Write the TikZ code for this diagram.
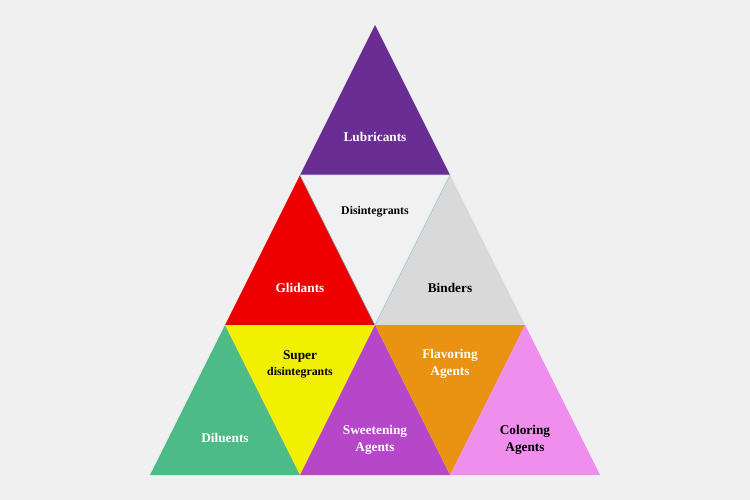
\documentclass[tikz,border=0pt]{standalone}
\usepackage{fontspec}
\setmainfont{Liberation Serif}
\begin{document}
\begin{tikzpicture}[x=1pt,y=-1pt,
  lab/.style={font=\bfseries\fontsize{13.3}{17}\selectfont, align=center, inner sep=0pt},
  smalllab/.style={font=\bfseries\fontsize{11.8}{14}\selectfont, align=center, inner sep=0pt}]
\definecolor{bg}{HTML}{F0F0F0}
\definecolor{lub}{HTML}{6A2D94}
\definecolor{gli}{HTML}{EE0000}
\definecolor{dis}{HTML}{F1F1F1}
\definecolor{bin}{HTML}{D9D9D9}
\definecolor{dil}{HTML}{4CBB88}
\definecolor{sup}{HTML}{F0F000}
\definecolor{swe}{HTML}{B647C8}
\definecolor{fla}{HTML}{EA9212}
\definecolor{col}{HTML}{F08EEE}
\definecolor{edge}{HTML}{8EC3D8}
\fill[bg] (0,0) rectangle (750,500);
\useasboundingbox (0,0) rectangle (750,500);
% triangles
\fill[lub] (375,25) -- (450,175) -- (300,175) -- cycle;
\fill[gli] (300,175) -- (375,325) -- (225,325) -- cycle;
\fill[bin] (450,175) -- (525,325) -- (375,325) -- cycle;
\filldraw[fill=dis, draw=edge, line width=0.5pt] (300,175) -- (450,175) -- (375,325) -- cycle;
\fill[dil] (225,325) -- (300,475) -- (150,475) -- cycle;
\fill[sup] (225,325) -- (375,325) -- (300,475) -- cycle;
\fill[swe] (375,325) -- (450,475) -- (300,475) -- cycle;
\fill[fla] (375,325) -- (525,325) -- (450,475) -- cycle;
\fill[col] (525,325) -- (600,475) -- (450,475) -- cycle;
% labels
\node[lab, text=white] (lubl) at (375,137) {Lubricants};
\node[smalllab, text=black] (disl) at (375,212) {Disintegrants};
\node[lab, text=black] (binl) at (450,288) {Binders};
\node[lab, text=white] (glil) at (300,288) {Glidants};
\node[lab, text=black] (supl) at (300,364) {Super\\[-1pt]{\fontsize{11.8}{14}\selectfont disintegrants}};
\node[lab, text=white] (dill) at (225,438) {Diluents};
\node[lab, text=white] (swel) at (375,440) {Sweetening\\Agents};
\node[lab, text=white] (flal) at (450,364) {Flavoring\\Agents};
\node[lab, text=black] (coll) at (525,440) {Coloring\\Agents};
\end{tikzpicture}
\end{document}
